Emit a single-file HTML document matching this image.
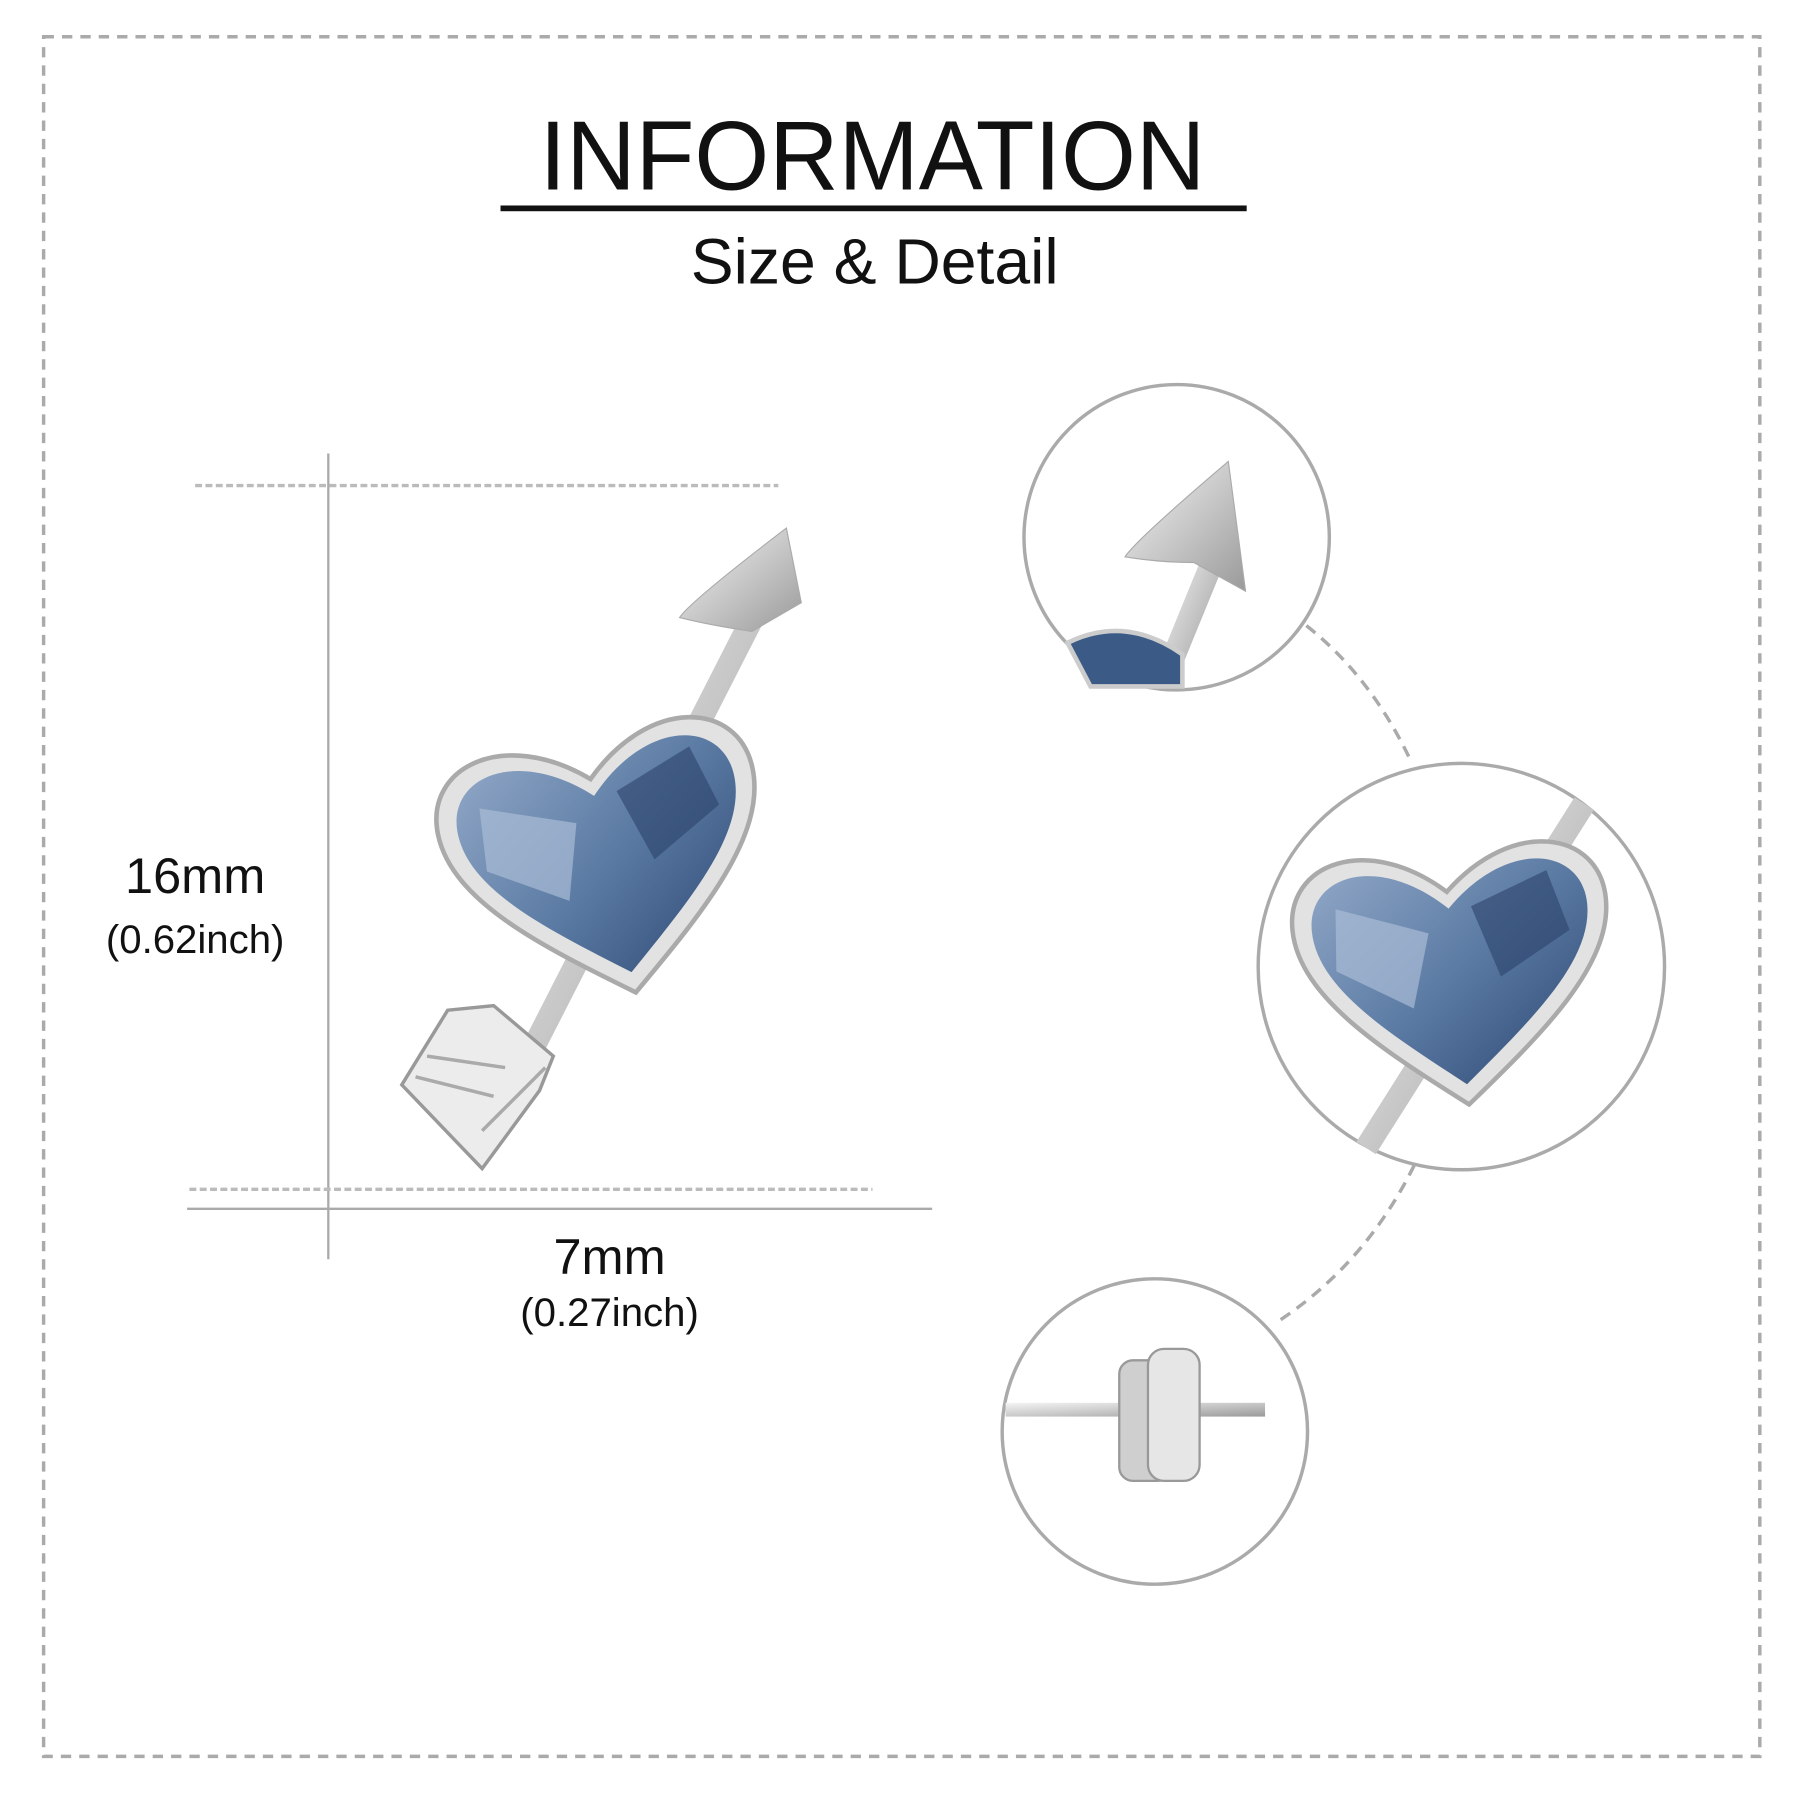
<!DOCTYPE html>
<html><head><style>html,body{margin:0;padding:0;background:#fff}svg{display:block}</style></head><body>
<svg width="1800" height="1800" viewBox="0 0 1568 1568" xmlns="http://www.w3.org/2000/svg">
<defs>
<linearGradient id="gem" x1="0" y1="0" x2="1" y2="1">
<stop offset="0" stop-color="#8fa6c6"/><stop offset="0.5" stop-color="#5a7aa3"/><stop offset="1" stop-color="#2b4570"/></linearGradient>
<linearGradient id="sil" x1="0" y1="0" x2="1" y2="1">
<stop offset="0" stop-color="#f4f4f4"/><stop offset="0.5" stop-color="#c8c8c8"/><stop offset="1" stop-color="#9a9a9a"/></linearGradient>
<g id="heart">
<path d="M0,115 C-70,60 -140,5 -140,-55 C-140,-115 -65,-135 0,-75 C65,-135 140,-115 140,-55 C140,5 70,60 0,115 Z" fill="#e2e2e2" stroke="#aaa" stroke-width="4"/>
<path d="M0,97 C-60,48 -123,0 -123,-52 C-123,-102 -58,-117 0,-60 C58,-117 123,-102 123,-52 C123,0 60,48 0,97 Z" fill="url(#gem)"/>
<path d="M-100,-70 L-20,-40 L-40,25 L-105,-15Z" fill="#a9bcd6" opacity=".7"/>
<path d="M20,-60 L90,-85 L105,-30 L40,5Z" fill="#2c426a" opacity=".6"/>
</g>
</defs>
<rect x="38" y="32" width="1495" height="1498" fill="none" stroke="#aaa" stroke-width="3" stroke-dasharray="9 7"/>
<text x="470" y="165" textLength="580" lengthAdjust="spacingAndGlyphs" font-family="Liberation Sans, sans-serif" font-size="86" fill="#111">INFORMATION</text>
<rect x="436" y="179" width="650" height="5" fill="#111"/>
<text x="762" y="247" text-anchor="middle" font-family="Liberation Sans, sans-serif" font-size="56" fill="#111">Size &amp; Detail</text>
<line x1="286" y1="395" x2="286" y2="1097" stroke="#aaa" stroke-width="2"/>
<line x1="170" y1="423" x2="678" y2="423" stroke="#bbb" stroke-width="3" stroke-dasharray="6 3"/>
<line x1="165" y1="1036" x2="760" y2="1036" stroke="#bbb" stroke-width="3" stroke-dasharray="6 3"/>
<line x1="163" y1="1053" x2="812" y2="1053" stroke="#aaa" stroke-width="2"/>
<g font-family="Liberation Sans, sans-serif" fill="#111" text-anchor="middle">
<text x="170" y="778" font-size="44">16mm</text>
<text x="170" y="830" font-size="35">(0.62inch)</text>
<text x="531" y="1110" font-size="44">7mm</text>
<text x="531" y="1155" font-size="35">(0.27inch)</text>
</g>
<line x1="420" y1="1000" x2="665" y2="520" stroke="url(#sil)" stroke-width="20"/>
<path d="M685,460 Q600,525 592,538 Q620,545 655,550 L698,525 Z" fill="url(#sil)" stroke="#aaa"/>
<path d="M350,945 L390,880 L430,876 L482,920 L470,950 L420,1018 Z" fill="#ececec" stroke="#999" stroke-width="3"/>
<g stroke="#aaa" stroke-width="3"><line x1="372" y1="920" x2="440" y2="930"/><line x1="362" y1="938" x2="430" y2="955"/><line x1="420" y1="985" x2="475" y2="930"/></g>
<g transform="translate(530,752) rotate(-12)"><use href="#heart"/></g>
<g fill="none" stroke="#aaa" stroke-width="3">
<circle cx="1025" cy="468" r="133"/>
<circle cx="1273" cy="842" r="177"/>
<circle cx="1006" cy="1247" r="133"/>
</g>
<path d="M1138,545 Q1195,590 1230,665" fill="none" stroke="#aaa" stroke-width="3" stroke-dasharray="10 7"/>
<path d="M1232,1015 Q1190,1100 1115,1150" fill="none" stroke="#aaa" stroke-width="3" stroke-dasharray="10 7"/>
<line x1="1015" y1="590" x2="1060" y2="480" stroke="url(#sil)" stroke-width="20"/>
<path d="M1070,402 Q990,470 980,485 Q1010,490 1040,490 L1085,515 Z" fill="url(#sil)" stroke="#aaa"/>
<path d="M930,560 Q980,535 1030,570 L1030,598 L950,598Z" fill="#3b5a86" stroke="#ccc" stroke-width="4"/>
<line x1="1190" y1="1000" x2="1380" y2="700" stroke="url(#sil)" stroke-width="20"/>
<g transform="translate(1268,850) rotate(-6) scale(0.98)"><use href="#heart"/></g>
<rect x="876" y="1222" width="226" height="12" fill="url(#sil)"/>
<rect x="975" y="1185" width="45" height="105" rx="12" fill="#cfcfcf" stroke="#999" stroke-width="2"/>
<rect x="1000" y="1175" width="45" height="115" rx="14" fill="#e6e6e6" stroke="#999" stroke-width="2"/>
</svg>
</body></html>
